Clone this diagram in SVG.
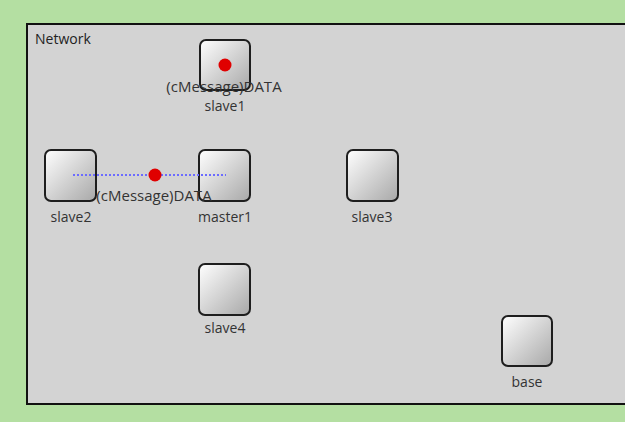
<svg xmlns="http://www.w3.org/2000/svg" width="625" height="422" viewBox="0 0 625 422">
<style>
.box{stroke:#1e1e1e;stroke-width:2;fill:url(#g)}
.lbl{font-family:"Open Sans","Noto Sans",sans-serif;font-size:14px;fill:#333;text-anchor:middle}
.mt{font-family:"Open Sans","Noto Sans",sans-serif;font-size:15px;fill:#333;text-anchor:middle}
.msg{fill:#e00000}
</style>
<defs>
<linearGradient id="g" x1="0" y1="0" x2="1" y2="1">
<stop offset="0" stop-color="#ffffff"/>
<stop offset="1" stop-color="#a8a8a8"/>
</linearGradient>
</defs>
<rect x="0" y="0" width="625" height="422" fill="#b4dfa2"/>
<rect x="27" y="24" width="620" height="380" fill="#d3d3d3" stroke="#111" stroke-width="2"/>
<text x="35" y="44" font-family="Open Sans, Noto Sans, sans-serif" font-size="14" fill="#222">Network</text>
<g id="slave1">
<rect class="box" x="200" y="40" width="50" height="50" rx="6"/>
<text class="lbl" x="225" y="111">slave1</text>
</g>
<g id="slave2">
<rect class="box" x="45" y="150" width="51" height="51" rx="6"/>
<text class="lbl" x="71" y="222">slave2</text>
</g>
<g id="master1">
<rect class="box" x="199" y="150" width="51" height="51" rx="6"/>
<text class="lbl" x="225" y="222">master1</text>
</g>
<g id="slave3">
<rect class="box" x="347" y="150" width="51" height="51" rx="6"/>
<text class="lbl" x="372" y="222">slave3</text>
</g>
<g id="slave4">
<rect class="box" x="199" y="264" width="51" height="51" rx="6"/>
<text class="lbl" x="225" y="333">slave4</text>
</g>
<g id="base">
<rect class="box" x="502" y="316" width="50" height="50" rx="6"/>
<text class="lbl" x="527" y="387">base</text>
</g>
<g id="connectors">
<line x1="73" y1="175" x2="226" y2="175" stroke="#6b6bff" stroke-width="2" stroke-dasharray="2,2"/>
</g>
<g id="messages">
<circle class="msg" cx="225" cy="65" r="6.5"/>
<text class="mt" x="224" y="92">(cMessage)DATA</text>
<circle class="msg" cx="155" cy="175" r="6.5"/>
<text class="mt" x="154" y="201">(cMessage)DATA</text>
</g>
</svg>
